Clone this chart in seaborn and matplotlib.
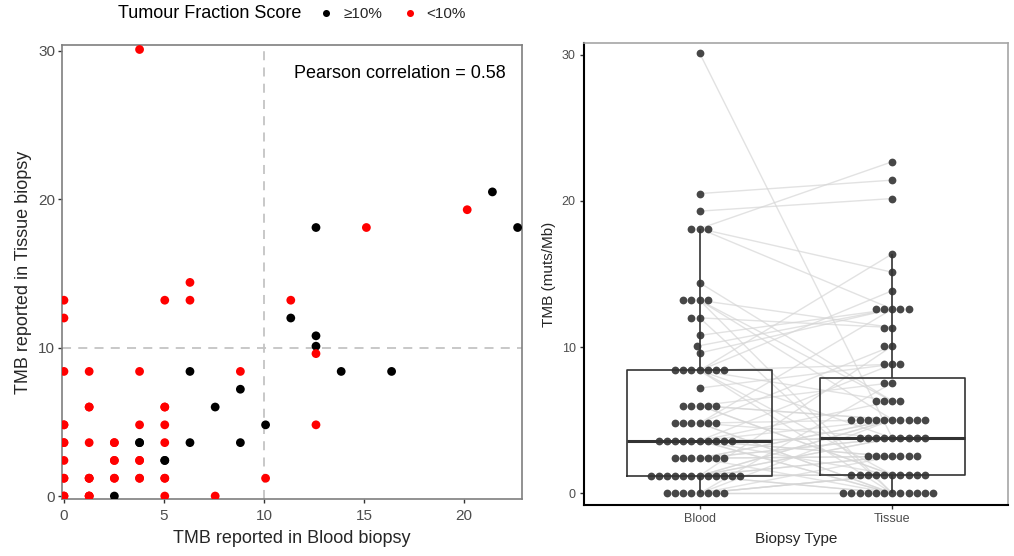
import numpy as np
import pandas as pd
import matplotlib
matplotlib.use("Agg")
import matplotlib.pyplot as plt
import seaborn as sns

# ---- data ----
tmb_blood = [3.78, 21.42, 20.16, 12.6, 15.12, 22.68, 6.3, 0, 5.04, 6.3,
             11.34, 0, 11.34, 12.6, 12.6, 12.6, 0, 1.26, 3.78, 6.3,
             8.82, 13.86, 16.38, 8.82, 1.26, 5.04, 7.56, 0, 3.78, 5.04,
             10.08, 12.6, 0, 1.26, 2.52, 3.78, 5.04, 6.3, 8.82, 0,
             2.52, 3.78, 5.04, 0, 1.26, 2.52, 3.78, 5.04, 10.08, 0,
             1.26, 2.52, 5.04, 7.56, 1.26, 5.04, 0, 0, 2.52, 3.78,
             2.52, 3.78, 5.04, 0, 1.26, 1.26, 2.52, 3.78, 5.04, 0,
             1.26, 1.26]
tmb_tissue = [30.1, 20.5, 19.3, 18.1, 18.1, 18.1, 14.4, 13.2, 13.2, 13.2,
              13.2, 12.0, 12.0, 10.8, 10.1, 9.6, 8.4, 8.4, 8.4, 8.4,
              8.4, 8.4, 8.4, 7.2, 6.0, 6.0, 6.0, 4.8, 4.8, 4.8,
              4.8, 4.8, 3.6, 3.6, 3.6, 3.6, 3.6, 3.6, 3.6, 2.4,
              2.4, 2.4, 2.4, 1.2, 1.2, 1.2, 1.2, 1.2, 1.2, 0,
              0, 0, 0, 0, 6.0, 6.0, 4.8, 3.6, 3.6, 3.6,
              2.4, 2.4, 2.4, 1.2, 1.2, 1.2, 1.2, 1.2, 1.2, 0,
              0, 0]
tumour_fraction = ["<10%", "≥10%", "<10%", "≥10%", "<10%", "≥10%", "<10%", "<10%", "<10%", "<10%",
                   "<10%", "<10%", "≥10%", "≥10%", "≥10%", "<10%", "<10%", "<10%", "<10%", "≥10%",
                   "<10%", "≥10%", "≥10%", "≥10%", "<10%", "<10%", "≥10%", "<10%", "<10%", "<10%",
                   "≥10%", "<10%", "<10%", "<10%", "<10%", "≥10%", "<10%", "≥10%", "≥10%", "<10%",
                   "<10%", "<10%", "≥10%", "<10%", "<10%", "<10%", "<10%", "<10%", "<10%", "<10%",
                   "<10%", "≥10%", "<10%", "<10%", "<10%", "<10%", "<10%", "<10%", "<10%", "≥10%",
                   "<10%", "<10%", "≥10%", "<10%", "<10%", "<10%", "<10%", "<10%", "<10%", "<10%",
                   "<10%", "<10%"]
fraction_order = ["≥10%", "<10%"]
fraction_colors = {"≥10%": "black", "<10%": "red"}
pearson_label = "Pearson correlation = 0.58"
biopsy_types = ["Blood", "Tissue"]
threshold = 10

# ---- style ----
sns.set_theme(style="white")
plt.rcParams["font.family"] = ["Liberation Sans", "DejaVu Sans"]

fig = plt.figure(figsize=(10.14, 5.56), dpi=100)
ax1 = fig.add_axes([0.0611, 0.1025, 0.4537, 0.8165])
ax2 = fig.add_axes([0.576, 0.0917, 0.418, 0.831])

# ---- left: scatter ----
df = pd.DataFrame({"blood": tmb_blood, "tissue": tmb_tissue, "tf": tumour_fraction})
ax1.axvline(threshold, color="#c4c4c4", ls=(0, (5, 4)), lw=1.3, zorder=0)
ax1.axhline(threshold, color="#c4c4c4", ls=(0, (5, 4)), lw=1.3, zorder=0)
sns.scatterplot(data=df, x="blood", y="tissue", hue="tf", hue_order=fraction_order,
                palette=fraction_colors, s=40, edgecolor="none", linewidth=0,
                ax=ax1, zorder=3)
handles, labels = ax1.get_legend_handles_labels()
ax1.get_legend().remove()
fig.text(118 / 1014, 1 - 14 / 556, "Tumour Fraction Score", fontsize=13,
         va="center", ha="left", color="black")
fig.legend(handles, labels, loc="center left", bbox_to_anchor=(308 / 1014, 1 - 14 / 556),
           ncol=2, frameon=False, fontsize=11, handletextpad=0.3, columnspacing=1.0,
           markerscale=0.8, borderaxespad=0, handlelength=1.6)

ax1.set_xlim(-0.1, 22.9)
ax1.set_ylim(-0.2, 30.4)
ax1.set_xticks([0, 5, 10, 15, 20])
ax1.set_yticks([0, 10, 20, 30])
ax1.set_xlabel("TMB reported in Blood biopsy", fontsize=13, labelpad=5)
ax1.set_ylabel("TMB reported in Tissue biopsy", fontsize=13, labelpad=4)
ax1.tick_params(axis="y", length=3, width=1, color="#333333", labelcolor="#4d4d4d",
                labelsize=11, left=True, pad=2)
ax1.tick_params(axis="x", length=3, width=1, color="#333333", labelcolor="#4d4d4d",
                labelsize=11, bottom=True, pad=4)
for sp in ax1.spines.values():
    sp.set_color("#7f7f7f")
    sp.set_linewidth(1.2)
ax1.text(0.965, 0.955, pearson_label, transform=ax1.transAxes, ha="right", va="top",
         fontsize=13, color="black")

# ---- right: paired box + swarm ----
long = pd.DataFrame({
    "type": [biopsy_types[0]] * len(tmb_tissue) + [biopsy_types[1]] * len(tmb_blood),
    "tmb": tmb_tissue + tmb_blood,
})
sns.boxplot(data=long, x="type", y="tmb", order=biopsy_types, showfliers=False,
            width=0.75, fill=False, color="#333333", linewidth=1.2, showcaps=False,
            medianprops=dict(linewidth=2.2), ax=ax2)
for b, t in zip(tmb_tissue, tmb_blood):
    ax2.plot([0, 1], [b, t], color="#d6d6d6", lw=1, alpha=0.7, zorder=1.5)
sns.swarmplot(data=long, x="type", y="tmb", order=biopsy_types, color="#333333",
              alpha=0.9, size=5.6, ax=ax2, zorder=3)

ax2.set_xlim(-0.6, 1.6)
ax2.set_ylim(-0.8, 30.8)
ax2.set_yticks([0, 10, 20, 30])
ax2.set_xlabel("Biopsy Type", fontsize=11, labelpad=5)
ax2.set_ylabel("TMB (muts/Mb)", fontsize=11, labelpad=4)
ax2.tick_params(length=3, width=1, color="#333333", labelcolor="#4d4d4d",
                labelsize=9, bottom=True, left=True, pad=3)
ax2.spines["left"].set_color("black")
ax2.spines["left"].set_linewidth(1.5)
ax2.spines["bottom"].set_color("black")
ax2.spines["bottom"].set_linewidth(1.5)
ax2.spines["top"].set_color("#a6a6a6")
ax2.spines["right"].set_color("#a6a6a6")
ax2.spines["top"].set_linewidth(1.2)
ax2.spines["right"].set_linewidth(1.2)

fig.savefig("out.png", dpi=100)
